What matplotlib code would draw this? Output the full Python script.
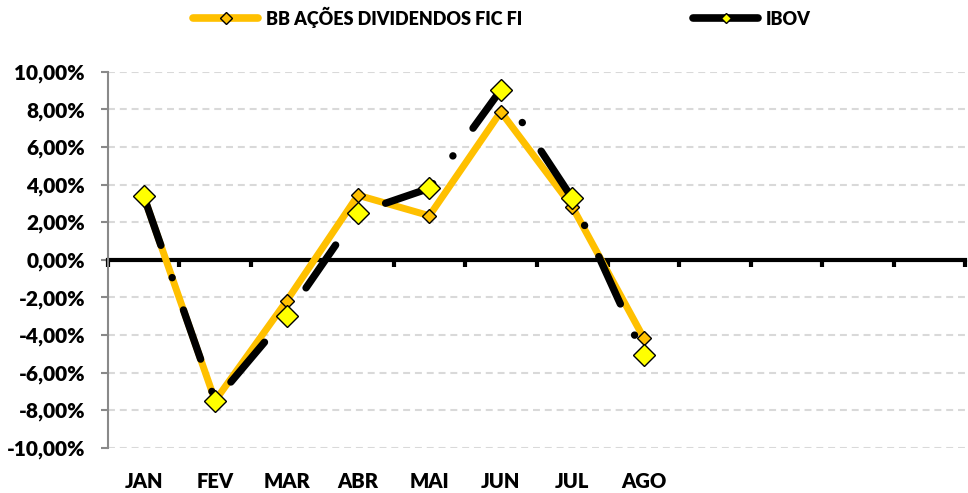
import matplotlib
matplotlib.use("Agg")
import matplotlib.pyplot as plt
from matplotlib.lines import Line2D
from matplotlib.ticker import FuncFormatter, MultipleLocator

plt.rcParams['font.family'] = ['Lato', 'DejaVu Sans']
plt.rcParams['font.weight'] = 'bold'
plt.rcParams['lines.scale_dashes'] = False
W = 'heavy'

months = ["JAN", "FEV", "MAR", "ABR", "MAI", "JUN", "JUL", "AGO", "", "", "", ""]
bb_values = [3.38, -7.5, -2.2, 3.43, 2.34, 7.87, 2.82, -4.15]
ibov_values = [3.38, -7.5, -3.0, 2.5, 3.8, 9.03, 3.27, -5.07]
bb_label = "BB AÇÕES DIVIDENDOS FIC FI"
ibov_label = "IBOV"

fig = plt.figure(figsize=(9.68, 4.93), dpi=100)
ax = fig.add_axes([108/968, 1-447.7/493, (965-108)/968, (447.7-71.7)/493])

x = list(range(len(bb_values)))
orange = "#FFC000"
ax.plot(x, bb_values, color=orange, lw=5, marker="D", ms=7, mfc=orange,
        mec="black", mew=1, solid_joinstyle="miter", zorder=3)
ax.plot(x, ibov_values, color="black", lw=5.3, marker="D", ms=11.5,
        mfc="#FFFF00", mec="black", mew=1, zorder=4,
        dash_capstyle="round", ls=(0, (37.5, 24.6, 0.1, 24.6)))

ax.set_xlim(-0.5, len(months) - 0.5)
ax.set_ylim(-10, 10)
ax.yaxis.set_major_locator(MultipleLocator(2))
ax.yaxis.set_major_formatter(FuncFormatter(lambda v, p: f"{v:.2f}%".replace(".", ",")))
ax.grid(axis="y", color="#D9D9D9", lw=1.5, ls=(0, (5, 3.5)))
ax.set_axisbelow(True)

for s in ["top", "right"]:
    ax.spines[s].set_visible(False)
ax.spines["left"].set_color("#898989")
ax.spines["left"].set_linewidth(1.5)
ax.spines["bottom"].set_position(("data", 0))
ax.spines["bottom"].set_linewidth(3)
ax.spines["bottom"].set_color("black")
ax.spines["bottom"].set_zorder(2)

ax.set_xticks([i - 0.5 for i in range(len(months) + 1)])
ax.set_xticklabels([])
ax.tick_params(axis="x", length=5, width=3, color="black", direction="out")
ax.tick_params(axis="y", length=5, width=1.5, color="#898989", labelsize=15, pad=11.5)
for t in ax.get_yticklabels():
    t.set_fontweight(W)

for i, m in enumerate(months):
    if m:
        ax.text(i, -(488 - 447.7) / 376, m, transform=ax.get_xaxis_transform(),
                ha="center", va="baseline", fontsize=14.5, fontweight=W)

handles = [
    Line2D([], [], color=orange, lw=5.5, marker="D", ms=6, mfc=orange, mec="black", mew=1,
           solid_capstyle="round"),
    Line2D([], [], color="black", lw=5.5, marker="D", ms=5.5, mfc="#FFFF00", mec="black", mew=1,
           solid_capstyle="round"),
]
leg = fig.legend(handles, [bb_label, ibov_label], loc="center", bbox_to_anchor=(0.5186, 0.9655),
                 ncol=2, frameon=False, handlelength=3.6, handletextpad=0.4,
                 columnspacing=9.5, prop={"weight": W, "size": 13})

fig.savefig("out.png", dpi=100)
